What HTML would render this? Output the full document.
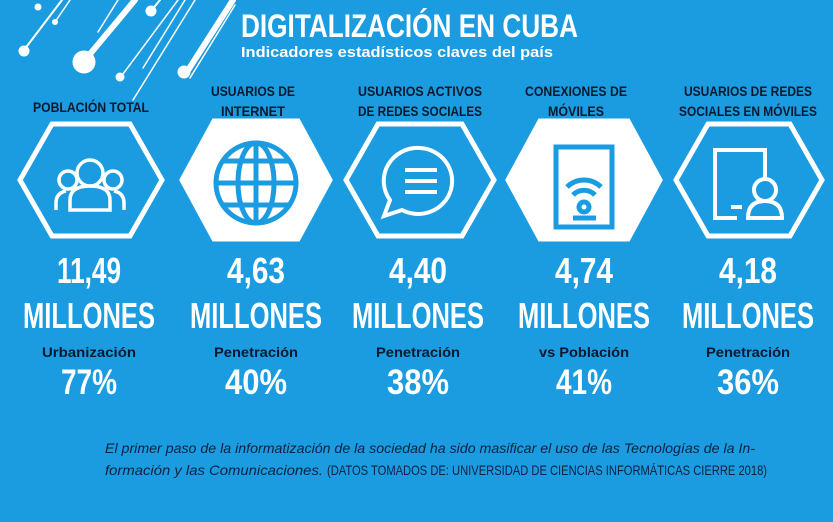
<!DOCTYPE html>
<html><head><meta charset="utf-8"><style>
html,body{margin:0;padding:0;background:#1b9be0;}
svg{display:block}
text{font-family:"Liberation Sans",sans-serif;font-weight:bold}
text.n, tspan.n{font-weight:normal}
</style></head><body>
<svg width="833" height="522" viewBox="0 0 833 522" xmlns="http://www.w3.org/2000/svg">
<rect width="833" height="522" fill="#1b9be0"/>
<g stroke="#fff" stroke-linecap="round" fill="#fff">
<line x1="24" y1="50" x2="62" y2="0" stroke-width="2"/><circle cx="24" cy="51" r="5"/>
<line x1="55" y1="22" x2="70" y2="0" stroke-width="1.5"/><circle cx="55" cy="22" r="2.5"/>
<circle cx="38" cy="7" r="3"/>
<line x1="85" y1="60" x2="135" y2="0" stroke-width="6"/><circle cx="84" cy="62" r="11"/>
<line x1="98" y1="32" x2="118" y2="0" stroke-width="1.5"/>
<line x1="120" y1="78" x2="178" y2="0" stroke-width="1.5"/><circle cx="120" cy="77" r="4"/>
<circle cx="151" cy="11" r="5"/><line x1="151" y1="11" x2="160" y2="0" stroke-width="2"/>
<line x1="133" y1="100" x2="195" y2="0" stroke-width="1.5"/>
<line x1="143" y1="68" x2="185" y2="0" stroke-width="1.5"/>
<line x1="185" y1="75" x2="233" y2="0" stroke-width="6"/><circle cx="184" cy="72" r="6"/>
<line x1="190" y1="78" x2="235" y2="5" stroke-width="1.5"/>
</g>
<text x="241" y="37" fill="#fff" font-size="32" textLength="337" lengthAdjust="spacingAndGlyphs">DIGITALIZACIÓN EN CUBA</text>
<text x="241" y="57" fill="#fff" font-size="15" textLength="312" lengthAdjust="spacingAndGlyphs">Indicadores estadísticos claves del país</text>

<g fill="#0a1a2e" font-size="14" text-anchor="middle">
<text x="91" y="112" textLength="116" lengthAdjust="spacingAndGlyphs">POBLACIÓN TOTAL</text>
<text x="253" y="96" textLength="84" lengthAdjust="spacingAndGlyphs">USUARIOS DE</text>
<text x="253" y="116" textLength="64" lengthAdjust="spacingAndGlyphs">INTERNET</text>
<text x="420" y="96" textLength="124" lengthAdjust="spacingAndGlyphs">USUARIOS ACTIVOS</text>
<text x="420" y="116" textLength="124" lengthAdjust="spacingAndGlyphs">DE REDES SOCIALES</text>
<text x="576" y="96" textLength="102" lengthAdjust="spacingAndGlyphs">CONEXIONES DE</text>
<text x="576" y="116" textLength="56" lengthAdjust="spacingAndGlyphs">MÓVILES</text>
<text x="748" y="96" textLength="128" lengthAdjust="spacingAndGlyphs">USUARIOS DE REDES</text>
<text x="748" y="116" textLength="138" lengthAdjust="spacingAndGlyphs">SOCIALES EN MÓVILES</text>
</g>

<g stroke="#fff" stroke-width="5" stroke-linejoin="miter">
<polygon points="20,180 52,124 130,124 162,180 130,236 52,236" fill="none"/>
<polygon points="182,180 214,121 298,121 330,180 298,239 214,239" fill="#fff"/>
<polygon points="346,180 378,124 462,124 494,180 462,236 378,236" fill="none"/>
<polygon points="508,180 540,121 628,121 660,180 628,239 540,239" fill="#fff"/>
<polygon points="676,180 708,124 790,124 822,180 790,236 708,236" fill="none"/>
</g>
<g fill="none" stroke="#fff" stroke-width="3.5">
<circle cx="90" cy="173" r="13"/>
<circle cx="68" cy="180" r="9"/>
<circle cx="113" cy="180" r="9"/>
<path d="M70 210 v-10 q0-14 20-14 q20 0 20 14 v10 z"/>
<path d="M56 210 v-7 q0-10 10-12 M124 210 v-7 q0-10-10-12"/>
</g>
<g fill="none" stroke="#1b9be0" stroke-width="5">
<circle cx="256" cy="183" r="40"/>
<ellipse cx="256" cy="183" rx="18" ry="40"/>
<line x1="256" y1="143" x2="256" y2="223"/>
<line x1="216" y1="183" x2="296" y2="183"/>
<path d="M223 161 h66 M223 205 h66"/>
</g>
<g fill="none" stroke="#fff" stroke-width="4">
<path d="M420 148 a34 33 0 1 1 -18 62 l-18 6 l6 -16 a34 33 0 0 1 30 -52 z"/>
<path d="M405 170 h32 M405 181 h32 M405 192 h32"/>
</g>
<g fill="none" stroke="#1b9be0" stroke-width="5">
<rect x="556" y="147" width="56" height="80"/>
<path d="M567 187 a24 24 0 0 1 34 0 M573 195 a15 15 0 0 1 22 0"/>
<circle cx="584" cy="207" r="5"/>
<line x1="573" y1="218" x2="596" y2="218"/>
</g>
<g fill="none" stroke="#fff" stroke-width="4">
<path d="M765 178 v-28 h-50 v68 h22"/>
<line x1="731" y1="207" x2="742" y2="207"/>
<circle cx="765" cy="190" r="11"/>
<path d="M748 218 q0-17 17-17 q17 0 17 17 z"/>
</g>

<g fill="#fff" font-size="36" text-anchor="middle">
<text x="89" y="283" textLength="64" lengthAdjust="spacingAndGlyphs">11,49</text>
<text x="256" y="283" textLength="58" lengthAdjust="spacingAndGlyphs">4,63</text>
<text x="418" y="283" textLength="58" lengthAdjust="spacingAndGlyphs">4,40</text>
<text x="584" y="283" textLength="58" lengthAdjust="spacingAndGlyphs">4,74</text>
<text x="748" y="283" textLength="58" lengthAdjust="spacingAndGlyphs">4,18</text>
<text x="89" y="328" textLength="132" lengthAdjust="spacingAndGlyphs">MILLONES</text>
<text x="256" y="328" textLength="132" lengthAdjust="spacingAndGlyphs">MILLONES</text>
<text x="418" y="328" textLength="132" lengthAdjust="spacingAndGlyphs">MILLONES</text>
<text x="584" y="328" textLength="132" lengthAdjust="spacingAndGlyphs">MILLONES</text>
<text x="748" y="328" textLength="132" lengthAdjust="spacingAndGlyphs">MILLONES</text>
<text x="89" y="394" font-size="35" textLength="56" lengthAdjust="spacingAndGlyphs">77%</text>
<text x="256" y="394" font-size="35" textLength="62" lengthAdjust="spacingAndGlyphs">40%</text>
<text x="418" y="394" font-size="35" textLength="62" lengthAdjust="spacingAndGlyphs">38%</text>
<text x="584" y="394" font-size="35" textLength="56" lengthAdjust="spacingAndGlyphs">41%</text>
<text x="748" y="394" font-size="35" textLength="62" lengthAdjust="spacingAndGlyphs">36%</text>
</g>
<g fill="#0a1a2e" font-size="14" text-anchor="middle">
<text x="89" y="357" textLength="94" lengthAdjust="spacingAndGlyphs">Urbanización</text>
<text x="256" y="357" textLength="84" lengthAdjust="spacingAndGlyphs">Penetración</text>
<text x="418" y="357" textLength="84" lengthAdjust="spacingAndGlyphs">Penetración</text>
<text x="584" y="357" textLength="90" lengthAdjust="spacingAndGlyphs">vs Población</text>
<text x="748" y="357" textLength="84" lengthAdjust="spacingAndGlyphs">Penetración</text>
</g>
<g fill="#0d2340" font-size="14">
<text class="n" x="105" y="453" font-style="italic" textLength="650" lengthAdjust="spacingAndGlyphs">El primer paso de la informatización de la sociedad ha sido masificar el uso de las Tecnologías de la In-</text>
<text class="n" x="105" y="475"><tspan class="n" font-style="italic" textLength="218" lengthAdjust="spacingAndGlyphs">formación y las Comunicaciones.</tspan><tspan class="n" dx="4" textLength="440" lengthAdjust="spacingAndGlyphs">(DATOS TOMADOS DE: UNIVERSIDAD DE CIENCIAS INFORMÁTICAS CIERRE 2018)</tspan></text>
</g>
</svg>
</body></html>
